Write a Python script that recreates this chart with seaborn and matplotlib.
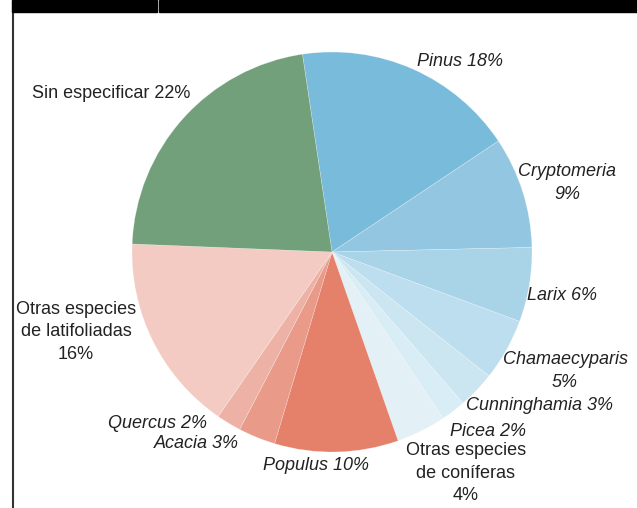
import matplotlib
matplotlib.use("Agg")
import matplotlib.pyplot as plt
from matplotlib.patches import Rectangle
from matplotlib.lines import Line2D
import seaborn as sns

sns.set_theme(style="white")
plt.rcParams['font.family'] = ['Liberation Sans', 'DejaVu Sans']

# Species shares (%), clockwise from the top
species = ["Pinus", "Cryptomeria", "Larix", "Chamaecyparis", "Cunninghamia",
           "Picea", "Otras especies\nde coníferas", "Populus", "Acacia",
           "Quercus", "Otras especies\nde latifoliadas", "Sin especificar"]
shares = [18, 9, 6, 5, 3, 2, 4, 10, 3, 2, 16, 22]
label_texts = ["Pinus 18%", "Cryptomeria\n9%", "Larix 6%", "Chamaecyparis\n5%",
               "Cunninghamia 3%", "Picea 2%", "Otras especies\nde coníferas\n4%",
               "Populus 10%", "Acacia 3%", "Quercus 2%",
               "Otras especies\nde latifoliadas\n16%", "Sin especificar 22%"]
italic = [True, True, True, True, True, True, False, True, True, True, False, False]

colors = ["#79BBDA", "#93C7E1", "#A9D4E7", "#BCDEEE", "#CCE6F1", "#D8EDF5",
          "#E3F1F7", "#E5806A", "#E99A88", "#EDB2A5", "#F3CBC3", "#71A07B"]

# label anchor points in pie units (radius = 1)
label_pos = [(0.64, 0.95), (1.175, 0.345), (1.15, -0.22), (1.165, -0.595),
             (1.04, -0.77), (0.78, -0.895), (0.67, -1.105), (-0.08, -1.065),
             (-0.68, -0.96), (-0.87, -0.86), (-1.28, -0.40), (-1.105, 0.79)]

W, H = 637, 508
fig = plt.figure(figsize=(W / 100, H / 100), dpi=100)
fig.patch.set_facecolor("white")

cx, cy, r = 332, 252, 200
ax = fig.add_axes([(cx - r) / W, (H - cy - r) / H, 2 * r / W, 2 * r / H])
ax.pie(shares, colors=colors, startangle=98.5, counterclock=False, radius=1,
       wedgeprops=dict(edgecolor="#FFFFFF80", linewidth=0.3))
ax.set_xlim(-1, 1)
ax.set_ylim(-1, 1)
ax.set_aspect("equal")
ax.axis("off")

for txt, (lx, ly), it in zip(label_texts, label_pos, italic):
    ax.text(lx, ly, txt, ha="center", va="center", fontsize=13,
            style="italic" if it else "normal", color="#222222",
            linespacing=1.42, clip_on=False)

# frame: black top band with a narrow gap and a thin rule down the left side
fig.patches.append(Rectangle((12 / W, 496 / H), (157 - 12) / W, 12 / H,
                             transform=fig.transFigure, color="black", zorder=5))
fig.patches.append(Rectangle((159 / W, 496 / H), (W - 159) / W, 12 / H,
                             transform=fig.transFigure, color="black", zorder=5))
fig.lines.append(Line2D([12.5 / W, 12.5 / W], [0, 1], transform=fig.transFigure,
                        color="#333333", linewidth=1.5, zorder=5))

fig.savefig("out.png", dpi=100, facecolor="white")
